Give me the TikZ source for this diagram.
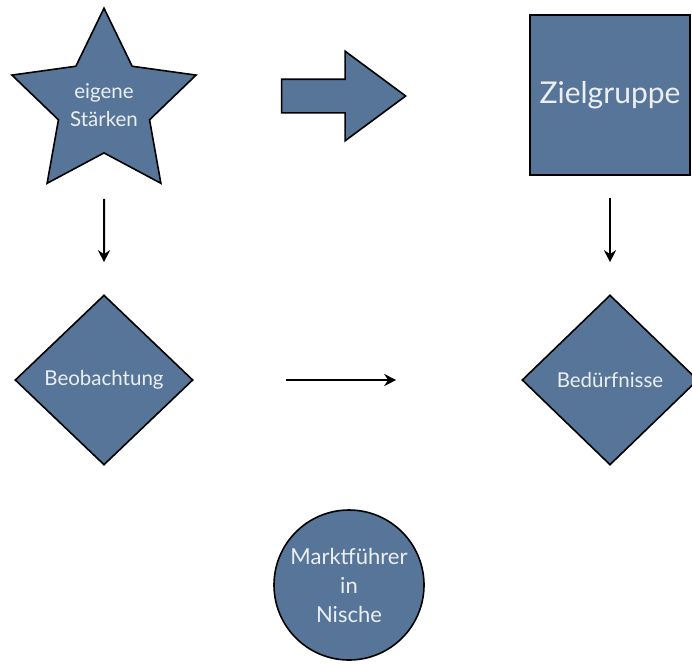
\documentclass[tikz,border=0pt]{standalone}
\usepackage{fontspec}
\setmainfont{Lato}
\usetikzlibrary{arrows.meta, shapes.geometric, shapes.arrows, positioning}
\tikzset{every node/.append style={align=center}}
\definecolor{boxblue}{RGB}{86,117,152}
\definecolor{boxtext}{RGB}{236,239,243}
\tikzset{
  shapebox/.style={draw=black, line width=1.6pt, fill=boxblue, text=boxtext,
                   inner sep=0pt},
  flowarrow/.style={-{Stealth[length=12pt,width=12pt]}, line width=2pt},
}

\begin{document}
\begin{tikzpicture}[x=1pt,y=-1pt]
\useasboundingbox (0,0) rectangle (692,664);

% ── Top row ───────────────────────────────────────────────────────────────────
\node[shapebox, star, star points=5, star point ratio=2.02, minimum size=190pt,
      font=\fontsize{20.5}{28}\selectfont] (staerken) at (104,105)
      {eigene\\Stärken};

\node[shapebox, single arrow, single arrow head extend=28pt,
      single arrow tip angle=73, minimum height=124pt,
      inner ysep=16pt, inner xsep=0pt, anchor=tip] (pfeil) at (407,96) {};

\node[shapebox, rectangle, minimum width=160pt, minimum height=160pt,
      font=\fontsize{30}{34}\selectfont] (zielgruppe) at (610,95) {Zielgruppe};

% ── Middle row ────────────────────────────────────────────────────────────────
\node[shapebox, diamond, minimum width=178pt, minimum height=170pt,
      font=\fontsize{20.5}{24}\selectfont] (beobachtung) at (104,380)
      {Beobachtung};
\node[shapebox, diamond, minimum width=176pt, minimum height=170pt,
      font=\fontsize{20.5}{24}\selectfont] (beduerfnisse) at (610,380)
      {Bedürfnisse};

% ── Bottom ────────────────────────────────────────────────────────────────────
\node[shapebox, circle, minimum size=150pt,
      font=\fontsize{22}{29}\selectfont] (nische) at (349,585)
      {Marktführer\\in\\Nische};

% Connectors
\draw[flowarrow, shorten <=45pt, shorten >=32pt] (staerken.south) -- (beobachtung.north);
\draw[flowarrow, shorten <=22pt, shorten >=32pt] (zielgruppe.south) -- (beduerfnisse.north);
\draw[flowarrow, shorten <=92pt, shorten >=125pt] (beobachtung.east) -- (beduerfnisse.west);

\end{tikzpicture}
\end{document}
